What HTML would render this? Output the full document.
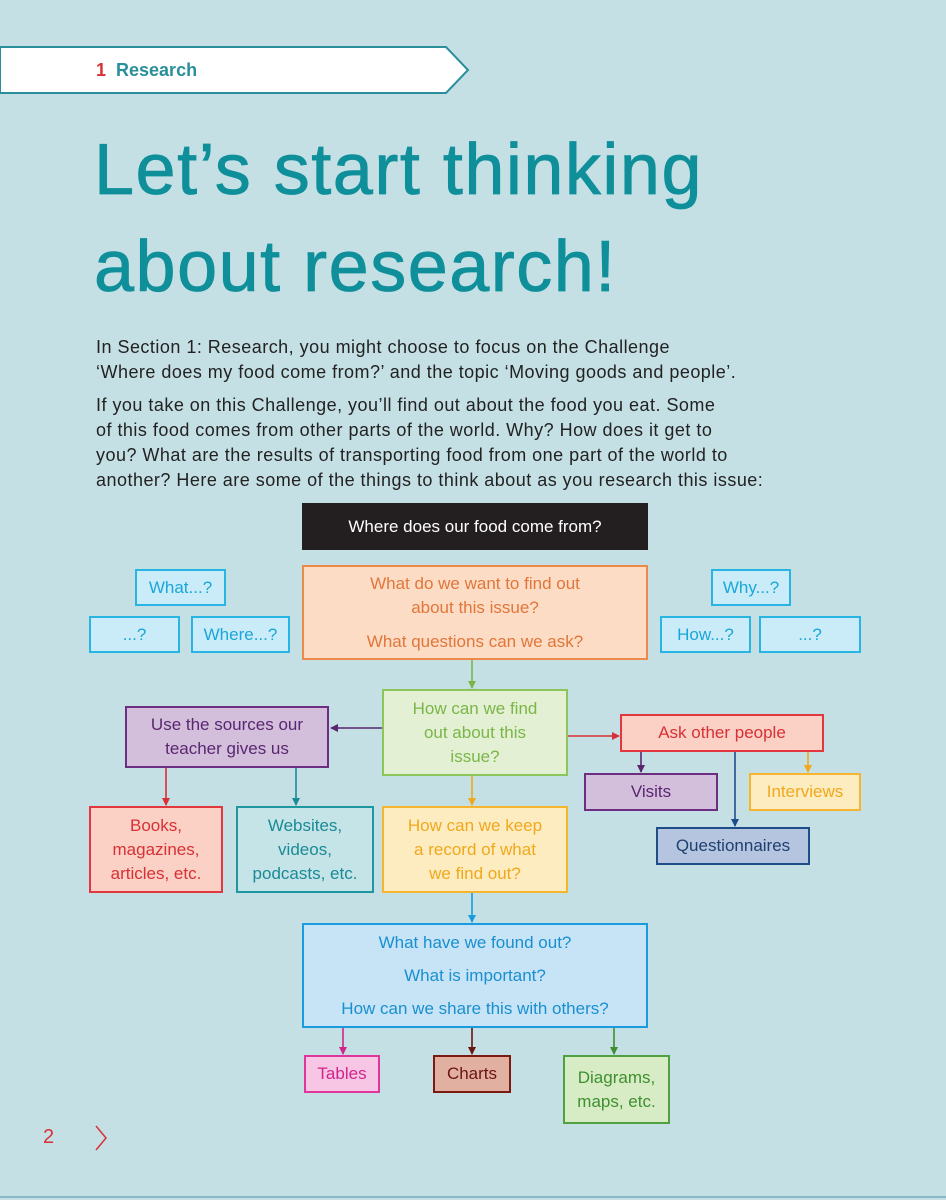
<!DOCTYPE html>
<html><head><style>
body{margin:0;width:946px;height:1200px;background:#c5e0e5;position:relative;overflow:hidden;font-family:"Liberation Sans",sans-serif}
.b{position:absolute;box-sizing:border-box;border:2px solid;display:flex;align-items:center;justify-content:center;text-align:center;font-size:17px;line-height:24px}
.q{background:#c9ecf8;border-color:#29b5e4;color:#1aa6d9}
.t{position:absolute;left:96px;color:#222;font-size:18px;letter-spacing:0.48px;line-height:25px;white-space:nowrap}
</style></head><body>
<svg style="position:absolute;left:0;top:0" width="946" height="1200">
<polygon points="0,47 446,47 468,70 446,93 0,93" fill="#fff" stroke="#2a8f9a" stroke-width="2"/>
<defs>
<marker id="m" markerWidth="8" markerHeight="8" refX="7" refY="4" orient="auto" markerUnits="userSpaceOnUse"><path d="M0,0 L8,4 L0,8z" fill="context-stroke"/></marker>
</defs>
<g stroke-width="1.6" fill="none" marker-end="url(#m)">
<line x1="472" y1="660" x2="472" y2="688" stroke="#7ab648"/>
<line x1="382" y1="728" x2="331" y2="728" stroke="#5a2670"/>
<line x1="568" y1="736" x2="619" y2="736" stroke="#d83035"/>
<line x1="166" y1="768" x2="166" y2="805" stroke="#d83035"/>
<line x1="296" y1="768" x2="296" y2="805" stroke="#1a8a95"/>
<line x1="472" y1="776" x2="472" y2="805" stroke="#f0a81c"/>
<line x1="641" y1="752" x2="641" y2="772" stroke="#5a2670"/>
<line x1="735" y1="752" x2="735" y2="826" stroke="#1e4d8a"/>
<line x1="808" y1="752" x2="808" y2="772" stroke="#f0a81c"/>
<line x1="472" y1="893" x2="472" y2="922" stroke="#1a9be0"/>
<line x1="343" y1="1028" x2="343" y2="1054" stroke="#d0258a"/>
<line x1="472" y1="1028" x2="472" y2="1054" stroke="#6a1510"/>
<line x1="614" y1="1028" x2="614" y2="1054" stroke="#3e8f30"/>
</g>
<path d="M96,1126 L106,1138 L96,1150" stroke="#d83035" stroke-width="1.5" fill="none"/>
<line x1="0" y1="1197" x2="946" y2="1197" stroke="#4a8fa0" stroke-width="1"/>
</svg>
<div style="position:absolute;left:96px;top:60px;font-size:18px;font-weight:bold;color:#2a8f9a"><span style="color:#d83035">1</span>&nbsp; Research</div>
<div style="position:absolute;left:94px;top:122px;font-size:72px;line-height:97px;letter-spacing:1.5px;color:#0e8f9a;white-space:nowrap;-webkit-text-stroke:0.8px #0e8f9a">Let’s start thinking<br>about research!</div>
<div class="t" style="top:335px">In Section 1: Research, you might choose to focus on the Challenge<br>‘Where does my food come from?’ and the topic ‘Moving goods and people’.</div>
<div class="t" style="top:393px">If you take on this Challenge, you’ll find out about the food you eat. Some<br>of this food comes from other parts of the world. Why? How does it get to<br>you? What are the results of transporting food from one part of the world to<br>another? Here are some of the things to think about as you research this issue:</div>
<div class="b" style="left:302px;top:503px;width:346px;height:47px;background:#231f20;border-color:#231f20;color:#fff">Where does our food come from?</div>
<div class="b" style="left:302px;top:565px;width:346px;height:95px;background:#fddcc5;border-color:#ec8a4a;color:#e0763a;flex-direction:column">What do we want to find out<br>about this issue?<div style="height:10px"></div>What questions can we ask?</div>
<div class="b q" style="left:135px;top:569px;width:91px;height:37px">What...?</div>
<div class="b q" style="left:89px;top:616px;width:91px;height:37px">...?</div>
<div class="b q" style="left:191px;top:616px;width:99px;height:37px">Where...?</div>
<div class="b q" style="left:711px;top:569px;width:80px;height:37px">Why...?</div>
<div class="b q" style="left:660px;top:616px;width:91px;height:37px">How...?</div>
<div class="b q" style="left:759px;top:616px;width:102px;height:37px">...?</div>
<div class="b" style="left:382px;top:689px;width:186px;height:87px;background:#e3f0d4;border-color:#8cc65a;color:#7ab648">How can we find<br>out about this<br>issue?</div>
<div class="b" style="left:125px;top:706px;width:204px;height:62px;background:#d3bfdc;border-color:#6b2e80;color:#5a2670">Use the sources our<br>teacher gives us</div>
<div class="b" style="left:620px;top:714px;width:204px;height:38px;background:#fbd0c5;border-color:#e0383e;color:#d83035">Ask other people</div>
<div class="b" style="left:584px;top:773px;width:134px;height:38px;background:#d3bfdc;border-color:#6b2e80;color:#5a2670">Visits</div>
<div class="b" style="left:749px;top:773px;width:112px;height:38px;background:#fdecc0;border-color:#f5b52e;color:#f0a81c">Interviews</div>
<div class="b" style="left:656px;top:827px;width:154px;height:38px;background:#b5c5e0;border-color:#1e4d8a;color:#1e3f70">Questionnaires</div>
<div class="b" style="left:89px;top:806px;width:134px;height:87px;background:#fbd0c5;border-color:#e0383e;color:#d83035">Books,<br>magazines,<br>articles, etc.</div>
<div class="b" style="left:236px;top:806px;width:138px;height:87px;background:#c5e4e8;border-color:#1f97a0;color:#1a8a95">Websites,<br>videos,<br>podcasts, etc.</div>
<div class="b" style="left:382px;top:806px;width:186px;height:87px;background:#fdecc0;border-color:#f5b52e;color:#f0a81c">How can we keep<br>a record of what<br>we find out?</div>
<div class="b" style="left:302px;top:923px;width:346px;height:105px;background:#c6e4f5;border-color:#1a9be0;color:#1a8fd0;line-height:33px">What have we found out?<br>What is important?<br>How can we share this with others?</div>
<div class="b" style="left:304px;top:1055px;width:76px;height:38px;background:#f7c6e5;border-color:#e0359a;color:#d0258a">Tables</div>
<div class="b" style="left:433px;top:1055px;width:78px;height:38px;background:#e2b0a0;border-color:#7a1a10;color:#6a1510">Charts</div>
<div class="b" style="left:563px;top:1055px;width:107px;height:69px;background:#d7ecc5;border-color:#4ea040;color:#3e8f30">Diagrams,<br>maps, etc.</div>
<div style="position:absolute;left:43px;top:1126px;font-size:20px;color:#d83035">2</div>
</body></html>
